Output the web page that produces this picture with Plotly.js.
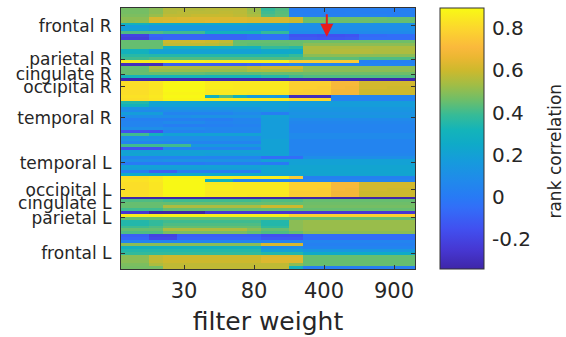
<!DOCTYPE html>
<html>
<head>
<meta charset="utf-8">
<script src="https://cdn.plot.ly/plotly-3.0.1.min.js"></script>
<style>html,body{margin:0;padding:0;background:#fff;}#chart{width:566px;height:337px;}</style>
</head>
<body>
<div id="chart"></div>
<script>
// Column (filter weight) indices and tick labels
const columns = [0,1,2,3,4,5,6,7,8,9,10,11,12,13,14,15,16,17,18,19,20];
const xTickCols = [4,9,14,19];
const xTickLabels = ['30','80','400','900'];

// Region labels and their row positions
const regionLabels = ['frontal R','parietal R','cingulate R','occipital R','temporal R','temporal L','occipital L','cingulate L','parietal L','frontal L'];
const regionRows = [5.6,17.1,22.3,26.7,37.4,52.9,62.2,66.7,71.9,84.0];

// Colorbar ticks
const cbTicks = [-0.2,0,0.2,0.4,0.6,0.8];
const cbTickLabels = ['-0.2','0','0.2','0.4','0.6','0.8'];

// Rank correlation values (rows top to bottom, 21 filter weights each)
const frontalR = [
[0.47,0.47,0.50,0.56,0.56,0.56,0.57,0.57,0.57,0.52,0.38,0.42,0.02,0.02,0.03,0.02,0.02,0.02,0.03,0.02,0.02],
[0.47,0.47,0.50,0.56,0.57,0.57,0.57,0.58,0.57,0.53,0.40,0.43,0.03,0.02,0.02,0.02,0.03,0.02,0.02,0.02,0.03],
[0.48,0.48,0.52,0.58,0.58,0.59,0.59,0.59,0.58,0.55,0.42,0.44,0.04,0.03,0.03,0.03,0.03,0.04,0.04,0.03,0.03],
[0.50,0.50,0.62,0.62,0.63,0.63,0.63,0.63,0.63,0.62,0.62,0.62,0.60,0.45,0.45,0.46,0.46,0.46,0.46,0.45,0.45],
[0.50,0.51,0.62,0.63,0.63,0.63,0.64,0.63,0.63,0.62,0.62,0.62,0.60,0.46,0.46,0.46,0.46,0.46,0.45,0.45,0.45],
[0.30,0.30,0.26,0.25,0.25,0.25,0.24,0.24,0.24,0.22,0.20,0.20,0.12,0.12,0.12,0.12,0.12,0.12,0.12,0.12,0.12],
[0.18,0.18,0.15,0.15,0.15,0.15,0.15,0.16,0.16,0.15,0.14,0.14,0.10,0.10,0.10,0.10,0.10,0.10,0.10,0.10,0.10],
[0.20,0.20,0.16,0.16,0.16,0.16,0.16,0.16,0.16,0.15,0.15,0.15,0.10,0.10,0.10,0.10,0.10,0.10,0.10,0.10,0.10],
[0.42,0.42,0.42,0.40,0.40,0.40,0.30,0.30,0.30,0.30,0.38,0.38,0.08,0.08,0.08,0.08,0.08,0.08,0.08,0.08,0.08],
[-0.20,-0.20,-0.08,-0.08,-0.08,-0.08,-0.08,-0.08,-0.08,-0.06,-0.04,-0.04,-0.14,-0.14,-0.15,-0.15,-0.14,-0.06,-0.06,-0.05,-0.05],
[-0.22,-0.22,-0.10,-0.08,-0.08,-0.08,-0.08,-0.08,-0.08,-0.06,-0.04,-0.04,-0.12,-0.12,-0.13,-0.13,-0.12,-0.05,-0.05,-0.05,-0.05],
[0.45,0.45,0.45,0.60,0.60,0.61,0.60,0.58,0.45,0.45,0.45,0.45,0.45,0.46,0.46,0.46,0.46,0.46,0.46,0.46,0.46],
[0.45,0.45,0.45,0.58,0.58,0.58,0.57,0.55,0.45,0.44,0.44,0.44,0.45,0.50,0.50,0.50,0.50,0.50,0.50,0.50,0.50]
];
const parietalR = [
[0.45,0.45,0.45,0.30,0.30,0.30,0.30,0.30,0.30,0.30,0.38,0.38,0.36,0.55,0.55,0.55,0.55,0.55,0.55,0.55,0.55],
[0.30,0.30,0.20,0.20,0.20,0.20,0.20,0.20,0.20,0.20,0.24,0.24,0.25,0.55,0.55,0.56,0.56,0.56,0.55,0.55,0.55],
[0.30,0.30,0.20,0.20,0.20,0.20,0.20,0.20,0.20,0.20,0.24,0.24,0.25,0.55,0.55,0.56,0.56,0.56,0.55,0.55,0.55],
[0.36,0.36,0.35,0.35,0.35,0.35,0.35,0.35,0.35,0.35,0.35,0.35,0.38,0.50,0.50,0.50,0.50,0.50,0.50,0.50,0.50],
[0.40,0.40,0.42,0.42,0.42,0.42,0.42,0.42,0.42,0.42,0.42,0.42,0.42,0.44,0.44,0.44,0.44,0.42,0.42,0.42,0.42],
[0.86,0.86,0.86,0.87,0.87,0.87,0.86,0.86,0.86,0.86,0.86,0.86,0.77,0.77,0.77,0.76,0.76,0.03,0.03,0.03,0.03],
[-0.30,-0.30,-0.30,-0.10,-0.10,-0.10,-0.10,-0.10,-0.10,-0.08,-0.05,-0.05,0.05,0.05,0.05,0.05,0.05,0.05,0.05,0.05,0.05],
[0.45,0.45,0.55,0.55,0.55,0.55,0.55,0.55,0.55,0.58,0.60,0.60,0.60,0.50,0.50,0.50,0.50,0.50,0.50,0.50,0.50],
[0.45,0.45,0.52,0.52,0.52,0.52,0.52,0.52,0.52,0.55,0.55,0.55,0.55,0.50,0.50,0.50,0.50,0.50,0.50,0.50,0.50]
];
const cingulateR = [
[0.45,0.45,0.45,0.45,0.45,0.45,0.44,0.44,0.44,0.44,0.45,0.45,0.45,0.46,0.46,0.46,0.46,0.46,0.46,0.46,0.46],
[0.32,0.32,0.32,0.32,0.32,0.32,0.32,0.32,0.32,0.32,0.35,0.35,0.40,0.42,0.42,0.42,0.42,0.42,0.42,0.42,0.42],
[-0.33,-0.33,-0.33,-0.33,-0.33,-0.33,-0.33,-0.33,-0.33,-0.33,-0.33,-0.33,-0.33,-0.33,-0.33,-0.33,-0.33,-0.33,-0.33,-0.33,-0.33]
];
const occipitalR = [
[0.82,0.82,0.84,0.88,0.89,0.89,0.85,0.85,0.85,0.85,0.85,0.85,0.78,0.78,0.78,0.70,0.70,0.61,0.61,0.61,0.61],
[0.82,0.82,0.84,0.89,0.89,0.89,0.86,0.86,0.85,0.85,0.85,0.85,0.78,0.78,0.78,0.70,0.70,0.61,0.61,0.61,0.61],
[0.82,0.82,0.84,0.89,0.89,0.89,0.86,0.86,0.85,0.85,0.85,0.85,0.78,0.78,0.77,0.70,0.69,0.61,0.61,0.60,0.60],
[0.82,0.82,0.84,0.89,0.89,0.89,0.85,0.85,0.85,0.85,0.85,0.85,0.78,0.77,0.77,0.69,0.69,0.60,0.60,0.60,0.60],
[0.82,0.82,0.84,0.88,0.88,0.88,0.85,0.85,0.85,0.84,0.84,0.84,0.77,0.77,0.77,0.69,0.69,0.60,0.60,0.60,0.60],
[0.83,0.83,0.85,0.89,0.89,0.89,0.30,0.42,0.30,0.18,0.18,0.15,-0.30,-0.30,-0.30,0.05,0.05,0.05,0.05,0.05,0.05],
[0.82,0.82,0.84,0.88,0.88,0.88,0.85,0.85,0.85,0.85,0.85,0.85,0.80,0.80,0.80,0.05,0.05,0.05,0.05,0.05,0.05]
];
const temporalR = [
[0.35,0.35,0.22,0.22,0.22,0.22,0.22,0.22,0.22,0.22,0.20,0.20,0.18,0.18,0.18,0.18,0.18,0.18,0.18,0.18,0.18],
[0.30,0.30,0.20,0.20,0.20,0.20,0.20,0.20,0.20,0.20,0.20,0.20,0.18,0.18,0.18,0.18,0.18,0.18,0.18,0.18,0.18],
[0.12,0.12,0.12,0.15,0.15,0.15,0.15,0.15,0.15,0.15,0.18,0.18,0.15,0.15,0.15,0.15,0.15,0.15,0.15,0.15,0.15],
[0.08,0.08,0.08,0.10,0.10,0.10,0.10,0.10,0.12,0.12,0.16,0.16,0.14,0.14,0.14,0.14,0.14,0.14,0.14,0.14,0.14],
[0.18,0.18,0.18,0.05,0.05,0.05,0.05,0.05,0.08,0.08,0.02,0.02,0.12,0.12,0.12,0.12,0.12,0.12,0.12,0.12,0.12],
[0.10,0.10,0.10,0.10,0.10,0.12,0.12,0.12,0.12,0.12,0.20,0.20,0.14,0.14,0.14,0.14,0.14,0.14,0.14,0.14,0.14],
[0.03,0.03,0.03,0.03,0.03,0.03,0.02,0.02,0.05,0.05,0.18,0.18,0.08,0.08,0.08,0.08,0.08,0.08,0.08,0.08,0.08],
[0.05,0.05,0.05,0.08,0.08,0.08,0.05,0.05,0.06,0.06,0.18,0.18,0.06,0.06,0.06,0.06,0.06,0.06,0.06,0.06,0.06],
[0.05,0.05,0.05,0.02,0.02,0.02,0.03,0.03,0.04,0.04,0.18,0.18,0.05,0.05,0.05,0.05,0.05,0.05,0.05,0.05,0.05],
[0.10,0.10,0.10,0.08,0.08,0.08,0.06,0.06,0.06,0.06,0.18,0.18,0.05,0.05,0.05,0.05,0.05,0.05,0.05,0.05,0.05],
[-0.15,-0.15,-0.15,0.04,0.04,0.04,0.05,0.05,0.05,0.05,0.18,0.18,0.05,0.05,0.05,0.05,0.05,0.05,0.05,0.05,0.05],
[0.40,0.40,0.30,0.20,0.20,0.20,0.20,0.20,0.20,0.20,0.18,0.18,0.08,0.08,0.08,0.08,0.08,0.08,0.08,0.08,0.08],
[0.10,0.10,0.10,0.10,0.10,0.10,0.10,0.10,0.10,0.10,0.18,0.18,0.08,0.08,0.08,0.08,0.08,0.08,0.08,0.08,0.08]
];
const temporalL = [
[0.12,0.12,0.12,0.10,0.10,0.10,0.10,0.10,0.10,0.10,0.20,0.20,0.05,0.05,0.05,0.05,0.05,0.05,0.05,0.05,0.05],
[0.05,0.05,0.05,0.05,0.05,0.05,0.05,0.05,0.05,0.05,0.20,0.20,0.05,0.05,0.05,0.05,0.05,0.05,0.05,0.05,0.05],
[0.40,0.40,0.40,0.40,0.40,0.15,0.15,0.15,0.15,0.15,0.20,0.20,0.05,0.05,0.05,0.05,0.05,0.05,0.05,0.05,0.05],
[-0.15,-0.15,-0.15,0.05,0.05,0.05,0.05,0.05,0.05,0.05,0.20,0.20,0.05,0.05,0.05,0.05,0.05,0.05,0.05,0.05,0.05],
[0.20,0.20,0.20,0.20,0.20,0.20,0.20,0.20,0.20,0.20,0.20,0.20,0.05,0.05,0.05,0.05,0.05,0.05,0.05,0.05,0.05],
[0.22,0.22,0.20,0.20,0.20,0.20,0.18,0.18,0.18,0.18,0.20,0.20,0.06,0.06,0.06,0.06,0.06,0.06,0.06,0.06,0.06],
[0.05,0.05,0.05,0.05,0.05,0.05,0.05,0.05,0.05,0.05,-0.05,-0.05,-0.05,0.10,0.10,0.10,0.10,0.10,0.10,0.10,0.10],
[0.10,0.10,0.10,0.12,0.12,0.12,0.12,0.12,0.12,0.12,0.20,0.20,0.20,0.20,0.20,0.20,0.20,0.20,0.20,0.20,0.20],
[0.00,0.00,0.00,0.00,0.00,0.00,0.02,0.02,0.02,0.02,0.00,0.00,0.20,0.20,0.20,0.20,0.20,0.20,0.20,0.20,0.20],
[0.20,0.20,0.20,0.20,0.20,0.20,0.20,0.20,0.20,0.20,0.22,0.22,0.22,0.22,0.22,0.22,0.22,0.22,0.22,0.22,0.22],
[0.18,0.18,0.18,0.18,0.18,0.18,0.18,0.18,0.18,0.18,0.22,0.22,0.22,0.22,0.22,0.22,0.22,0.22,0.22,0.22,0.22],
[0.02,0.02,-0.10,-0.10,0.02,0.02,0.02,0.02,0.02,0.02,0.22,0.22,0.22,0.22,0.22,0.22,0.22,0.22,0.22,0.22,0.22],
[0.25,0.25,0.25,0.25,0.25,0.25,0.25,0.25,0.25,0.25,0.22,0.22,0.22,0.22,0.22,0.22,0.22,0.22,0.22,0.22,0.22]
];
const occipitalL = [
[0.82,0.82,0.84,0.88,0.88,0.88,0.85,0.85,0.85,0.85,0.86,0.86,0.76,0.03,0.03,0.03,0.03,0.03,0.03,0.03,0.03],
[0.83,0.83,0.85,0.89,0.89,0.89,0.30,0.30,0.05,0.05,0.05,0.05,0.05,0.05,0.05,0.05,0.05,0.05,0.05,0.05,0.05],
[0.82,0.82,0.84,0.89,0.89,0.89,0.85,0.85,0.85,0.85,0.85,0.85,0.78,0.78,0.78,0.70,0.70,0.61,0.61,0.61,0.61],
[0.82,0.82,0.84,0.89,0.89,0.89,0.86,0.86,0.85,0.85,0.85,0.85,0.78,0.78,0.78,0.70,0.70,0.61,0.61,0.61,0.61],
[0.82,0.82,0.84,0.89,0.89,0.89,0.86,0.86,0.85,0.85,0.85,0.85,0.78,0.78,0.77,0.70,0.69,0.61,0.61,0.60,0.60],
[0.82,0.82,0.84,0.89,0.89,0.89,0.85,0.85,0.85,0.85,0.85,0.85,0.77,0.77,0.77,0.69,0.69,0.60,0.60,0.60,0.60],
[0.82,0.82,0.84,0.88,0.88,0.88,0.85,0.85,0.85,0.84,0.84,0.84,0.77,0.77,0.77,0.69,0.69,0.60,0.60,0.60,0.60]
];
const cingulateL = [
[-0.34,-0.34,-0.34,-0.34,-0.34,-0.34,-0.34,-0.34,-0.34,-0.34,-0.34,-0.34,-0.34,-0.34,-0.34,-0.34,-0.34,-0.34,-0.34,-0.34,-0.34],
[0.42,0.42,0.42,0.40,0.40,0.40,0.40,0.40,0.40,0.40,0.42,0.42,0.42,0.45,0.45,0.45,0.45,0.45,0.45,0.45,0.45],
[0.45,0.45,0.45,0.45,0.45,0.45,0.45,0.45,0.45,0.45,0.45,0.45,0.45,0.46,0.46,0.46,0.46,0.46,0.46,0.46,0.46]
];
const parietalL = [
[0.45,0.45,0.45,0.55,0.55,0.55,0.55,0.55,0.55,0.55,0.60,0.60,0.60,0.47,0.47,0.47,0.47,0.47,0.47,0.47,0.47],
[0.40,0.40,0.40,0.45,0.45,0.45,0.45,0.45,0.45,0.45,0.45,0.45,0.45,0.45,0.45,0.45,0.45,0.45,0.45,0.45,0.45],
[-0.25,-0.25,-0.35,-0.35,-0.35,-0.35,-0.25,-0.25,-0.25,-0.25,-0.25,-0.25,-0.25,-0.25,-0.25,-0.25,-0.25,-0.25,-0.25,-0.25,-0.25],
[0.86,0.86,0.86,0.87,0.87,0.87,0.86,0.86,0.86,0.86,0.86,0.86,0.78,0.78,0.78,0.78,0.78,0.78,0.78,0.78,0.78],
[0.45,0.45,0.45,0.45,0.45,0.45,0.45,0.45,0.45,0.45,0.45,0.45,0.45,0.45,0.45,0.45,0.45,0.45,0.45,0.45,0.45],
[0.35,0.35,0.38,0.40,0.40,0.40,0.40,0.40,0.40,0.40,0.35,0.35,0.50,0.52,0.52,0.52,0.52,0.52,0.52,0.52,0.52],
[0.35,0.35,0.38,0.42,0.42,0.42,0.42,0.42,0.42,0.42,0.35,0.35,0.50,0.52,0.52,0.52,0.52,0.52,0.52,0.52,0.52],
[0.40,0.40,0.42,0.45,0.45,0.45,0.45,0.45,0.45,0.45,0.38,0.38,0.50,0.52,0.52,0.52,0.52,0.52,0.52,0.52,0.52],
[0.45,0.45,0.45,0.55,0.55,0.55,0.55,0.55,0.55,0.50,0.45,0.45,0.50,0.52,0.52,0.52,0.52,0.52,0.52,0.52,0.52]
];
const frontalL = [
[0.42,0.42,0.42,0.48,0.48,0.48,0.48,0.48,0.48,0.45,0.42,0.42,0.45,0.50,0.50,0.50,0.50,0.50,0.50,0.50,0.50],
[-0.10,-0.10,-0.20,-0.20,-0.10,-0.10,-0.10,-0.10,-0.10,-0.10,-0.15,-0.15,-0.15,-0.05,-0.05,-0.05,-0.05,-0.05,-0.05,-0.05,-0.05],
[-0.08,-0.08,-0.18,-0.18,-0.08,-0.08,-0.08,-0.08,-0.08,-0.08,-0.12,-0.12,-0.12,-0.05,-0.05,-0.05,-0.05,-0.05,-0.05,-0.05,-0.05],
[0.05,0.05,0.05,0.05,0.05,0.05,0.05,0.05,0.05,0.05,0.05,0.05,0.05,0.05,0.05,0.05,0.05,0.05,0.05,0.05,0.05],
[0.50,0.50,0.50,0.50,0.50,0.50,0.50,0.50,0.50,0.50,0.62,0.62,0.62,0.03,0.03,0.03,0.03,0.03,0.03,0.03,0.03],
[0.30,0.30,0.30,0.30,0.30,0.30,0.30,0.30,0.30,0.30,0.10,0.10,0.10,0.05,0.05,0.05,0.05,0.05,0.05,0.05,0.05],
[0.35,0.35,0.35,0.35,0.35,0.35,0.35,0.35,0.35,0.35,0.20,0.20,0.20,0.15,0.15,0.15,0.15,0.15,0.15,0.15,0.15],
[0.38,0.38,0.38,0.38,0.38,0.38,0.38,0.38,0.38,0.38,0.35,0.35,0.35,0.25,0.25,0.25,0.25,0.25,0.25,0.25,0.25],
[0.50,0.50,0.58,0.60,0.60,0.60,0.60,0.60,0.60,0.60,0.62,0.62,0.62,0.45,0.45,0.45,0.45,0.45,0.45,0.45,0.45],
[0.50,0.50,0.58,0.60,0.60,0.60,0.60,0.60,0.60,0.60,0.63,0.63,0.63,0.45,0.45,0.45,0.45,0.45,0.45,0.45,0.45],
[0.50,0.50,0.58,0.60,0.60,0.60,0.60,0.60,0.60,0.60,0.63,0.63,0.63,0.45,0.45,0.45,0.45,0.45,0.45,0.45,0.45],
[0.48,0.48,0.55,0.58,0.58,0.58,0.58,0.58,0.58,0.58,0.58,0.58,0.50,0.45,0.45,0.45,0.45,0.45,0.45,0.45,0.45],
[0.47,0.47,0.47,0.58,0.58,0.58,0.58,0.58,0.58,0.58,0.58,0.58,0.30,0.02,0.02,0.02,0.02,0.02,0.02,0.02,0.02]
];

// Parula-like colormap, as seen on the reference colorbar
const parula = [
[0.000,'rgb(62,38,168)'],[0.073,'rgb(70,55,210)'],[0.154,'rgb(65,80,240)'],[0.235,'rgb(50,110,248)'],
[0.275,'rgb(40,122,245)'],[0.340,'rgb(32,138,235)'],[0.413,'rgb(22,155,220)'],[0.478,'rgb(15,170,200)'],
[0.534,'rgb(20,180,185)'],[0.591,'rgb(55,187,150)'],[0.648,'rgb(110,190,105)'],[0.704,'rgb(160,189,70)'],
[0.761,'rgb(205,185,45)'],[0.810,'rgb(235,183,50)'],[0.850,'rgb(250,185,60)'],[0.923,'rgb(252,215,45)'],
[1.000,'rgb(248,250,20)']
];

const z = [].concat(frontalR, parietalR, cingulateR, occipitalR, temporalR, temporalL, occipitalL, cingulateL, parietalL, frontalL);
const rows = z.map((r, i) => i);

const font = 'DejaVu Sans, sans-serif';
const txt = '#262626';

const trace = {
  type: 'heatmap',
  z: z, x: columns, y: rows,
  colorscale: parula, zmin: -0.34, zmax: 0.895, zsmooth: false,
  hoverinfo: 'skip',
  colorbar: {
    x: 1.085, xanchor: 'left', xpad: 0, ypad: 0,
    y: 0.5, yanchor: 'middle', len: 1, lenmode: 'fraction',
    thickness: 44, thicknessmode: 'pixels',
    outlinecolor: '#333', outlinewidth: 1,
    tickmode: 'array', tickvals: cbTicks, ticktext: cbTickLabels,
    ticks: 'outside', ticklen: 4, tickcolor: 'rgba(0,0,0,0)',
    tickfont: {family: font, size: 20, color: txt}
  }
};

const layout = {
  width: 566, height: 337,
  margin: {l: 121, r: 151, t: 8, b: 68},
  paper_bgcolor: '#fff', plot_bgcolor: '#fff',
  font: {family: font, color: txt},
  xaxis: {
    range: [-0.5, 20.5], tickmode: 'array', tickvals: xTickCols, ticktext: xTickLabels,
    ticks: 'inside', ticklen: 4, tickcolor: '#333', mirror: 'ticks',
    showline: true, linecolor: '#333', linewidth: 1, showgrid: false, zeroline: false,
    tickfont: {family: font, size: 21, color: txt}, ticklabelstandoff: 3,
    title: {text: 'filter weight', font: {family: font, size: 25, color: txt}, standoff: 10},
    automargin: false
  },
  yaxis: {
    range: [89.5, -0.5], tickmode: 'array', tickvals: regionRows, ticktext: regionLabels,
    ticks: 'inside', ticklen: 4, tickcolor: '#333', mirror: 'ticks',
    showline: true, linecolor: '#333', linewidth: 1, showgrid: false, zeroline: false,
    tickfont: {family: font, size: 17, color: txt}, ticklabelstandoff: 5,
    automargin: false
  },
  annotations: [
    {x: 14.2, xref: 'x', y: 0.89, yref: 'paper', text: '', showarrow: true,
     ax: 0, ay: -24, arrowcolor: 'rgb(230,28,28)', arrowwidth: 2, arrowhead: 2, arrowsize: 1.3, standoff: 0},
    {x: (555 - 121) / 294, xref: 'paper', y: 0.45, yref: 'paper', text: 'rank correlation', textangle: -90,
     showarrow: false, font: {family: font, size: 17, color: txt}, xanchor: 'center', yanchor: 'middle'}
  ]
};

Plotly.newPlot('chart', [trace], layout, {displayModeBar: false, staticPlot: true});
</script>
</body>
</html>
